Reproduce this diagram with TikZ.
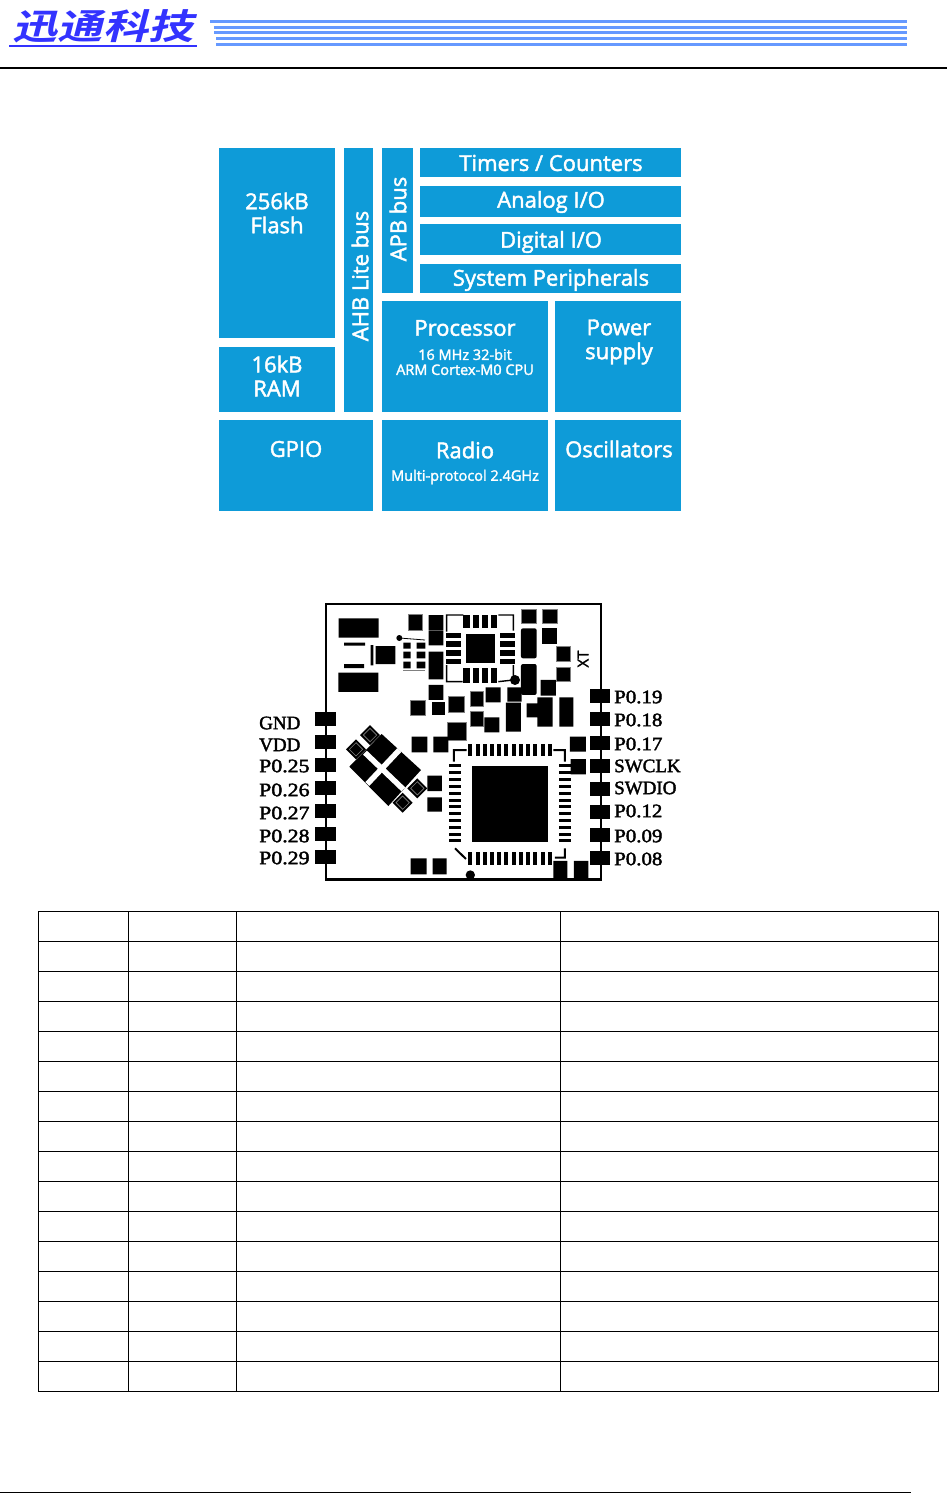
\documentclass[tikz,border=0pt]{standalone}
\usepackage{fontspec}
\setmainfont{Liberation Serif}
\setsansfont{Open Sans}[FakeBold=2]
\newfontfamily\cjk{Noto Sans CJK SC}[FakeSlant=0.2,BoldFont={* Bold}]
\newfontfamily\pinfont{Liberation Serif}[FakeBold=2]
\definecolor{blockblue}{HTML}{0E9BD8}
\definecolor{logoblue}{HTML}{3333FF}
\definecolor{stripeblue}{HTML}{6699FF}
\tikzset{
  block/.style={fill=blockblue,inner sep=0pt,anchor=north west},
  blocktext/.style={text=white,font=\sffamily\fontsize{22}{24}\selectfont,align=center,inner sep=0pt},
  smalltext/.style={text=white,font=\sffamily\fontsize{14.5}{15}\selectfont,align=center,inner sep=0pt},
  pinlabel/.style={font=\pinfont\fontsize{19}{22}\selectfont,inner sep=0pt,anchor=west},
  padframe/.style={fill=black,draw=gray,line width=0.8pt}
}
\newcommand{\chipdiam}[3]{\fill (#1-#3,#2) -- (#1,#2-#3) -- (#1+#3,#2) -- (#1,#2+#3) -- cycle;
  \draw[gray,line width=0.6pt] (#1-#3+10,#2) -- (#1,#2-#3+10) -- (#1+#3-10,#2) -- (#1,#2+#3-10) -- cycle;}
\begin{document}
\begin{tikzpicture}[x=1pt,y=-1pt]
\useasboundingbox (0,0) rectangle (947,1493);

% page header
\node[text=logoblue,font=\cjk\bfseries\fontsize{40}{42}\selectfont,inner sep=0pt] (logo) at (103,26) {\scalebox{1.13}[0.88]{迅通科技}};
\draw[logoblue,line width=2.5pt] (9,46) -- (197,46);
\draw[stripeblue,line width=2.6pt] (210,21.7) -- (907,21.7);
\draw[stripeblue,line width=2.6pt] (214,27.4) -- (907,27.4);
\draw[stripeblue,line width=2.6pt] (214,32.7) -- (907,32.7);
\draw[stripeblue,line width=2.6pt] (216,38.7) -- (907,38.7);
\draw[stripeblue,line width=2.6pt] (216,44.7) -- (907,44.7);
\draw[line width=2pt] (0,68) -- (947,68);
\draw[line width=0.8pt] (0,1492.5) -- (911,1492.5);

% block diagram
\node[block,minimum width=116pt,minimum height=190pt] (flash) at (219,148) {};
\node[block,minimum width=116pt,minimum height=65pt] (ram) at (219,347) {};
\node[block,minimum width=29pt,minimum height=264pt] (ahb) at (344,148) {};
\node[block,minimum width=31pt,minimum height=145pt] (apb) at (382,148) {};
\node[block,minimum width=261pt,minimum height=29pt] (timers) at (420,148) {};
\node[block,minimum width=261pt,minimum height=31pt] (analog) at (420,186) {};
\node[block,minimum width=261pt,minimum height=31pt] (digital) at (420,224) {};
\node[block,minimum width=261pt,minimum height=29pt] (system) at (420,264) {};
\node[block,minimum width=166pt,minimum height=111pt] (proc) at (382,301) {};
\node[block,minimum width=126pt,minimum height=111pt] (power) at (555,301) {};
\node[block,minimum width=154pt,minimum height=91pt] (gpio) at (219,420) {};
\node[block,minimum width=166pt,minimum height=91pt] (radio) at (382,420) {};
\node[block,minimum width=126pt,minimum height=91pt] (osc) at (555,420) {};

\node[blocktext] (flashtext) at (277,213) {256kB\\Flash};
\node[blocktext] (ramtext) at (277,376) {16kB\\RAM};
\node[blocktext,rotate=90] (ahbtext) at (360,276) {AHB Lite bus};
\node[blocktext,rotate=90] (apbtext) at (398,219) {APB bus};
\node[blocktext] (timerstext) at (551,163) {Timers / Counters};
\node[blocktext] (analogtext) at (551,202) {Analog I/O};
\node[blocktext] (digitaltext) at (551,242) {Digital I/O};
\node[blocktext] (systemtext) at (551,280) {System Peripherals};
\node[blocktext] (proctext) at (465,328) {Processor};
\node[smalltext] (procsub) at (465,362) {16 MHz 32-bit\\ARM Cortex-M0 CPU};
\node[blocktext] (powertext) at (619,342) {Power\\supply};
\node[blocktext] (gpiotext) at (296,449) {GPIO};
\node[blocktext] (radiotext) at (465,450) {Radio};
\node[smalltext] (radiosub) at (465,477) {Multi-protocol 2.4GHz};
\node[blocktext] (osctext) at (619,449) {Oscillators};

% module outline and pins
\draw[line width=2.4pt] (326,604) rectangle (601,879.5);
\foreach \y in {719,742,765,788,811,834,857}
  \fill (315,\y-7) rectangle (336,\y+7);
\foreach \y in {696,719,743,766,789,812,835,858}
  \fill (590,\y-7) rectangle (610,\y+7);
\node[pinlabel] (leftGND) at (259,723) {GND};
\node[pinlabel] (leftVDD) at (259,745) {VDD};
\foreach \name/\y in {P0.25/766,P0.26/790,P0.27/813,P0.28/836,P0.29/858}
  \node[pinlabel] (left\name) at (259,\y) {\scalebox{1.15}[1]{\name}};
\foreach \name/\y in {P0.19/697,P0.18/720,P0.17/744,P0.12/811,P0.09/836,P0.08/859}
  \node[pinlabel] (right\name) at (614,\y) {\scalebox{1.1}[1]{\name}};
\node[pinlabel] (rightSWCLK) at (614,766) {SWCLK};
\node[pinlabel] (rightSWDIO) at (614,788) {SWDIO};
\node[rotate=90,font=\sffamily\fontsize{15}{16}\selectfont,inner sep=0pt] (xt) at (583,659) {XT};

% upper half of the board
\begin{scope}[shift={(320,600)},x=0.3333pt,y=-0.3333pt]
\fill (56,55) rectangle (176,113) (72,128) rectangle (135,137) (72,192) rectangle (132,204) (55,218) rectangle (175,276);
\fill (152,135) rectangle (160,196) (167,138) rectangle (226,192);
\fill (238,114) circle(9);
\draw[line width=0.8pt] (238,114) -- (315,120);
\fill (250,128) rectangle (272,146) (290,128) rectangle (316,146) (250,155) rectangle (272,175) (290,155) rectangle (316,175) (250,185) rectangle (272,205) (290,185) rectangle (316,205);
\draw[gray,line width=0.8pt] (250,211) -- (316,211);
\draw[padframe] (265,42) rectangle (308,90);
\fill (326,45) rectangle (370,90) (326,92) rectangle (370,136) (326,155) rectangle (370,238) (326,255) rectangle (370,300);
% small qfn
\draw[line width=1.4pt] (430,45) -- (380,45) -- (380,95) (535,45) -- (580,45) -- (580,92) (380,195) -- (380,245) -- (428,245) (535,245) -- (580,240) -- (580,195);
\fill (438,103) rectangle (524,190);
\foreach \x in {430,458,486,512} {
  \fill (\x,45) rectangle (\x+19,85);
  \fill (\x,205) rectangle (\x+19,248);
}
\foreach \y/\h in {100/14,122/20,150/18,176/16} {
  \fill (378,\y) rectangle (422,\y+\h);
  \fill (541,\y) rectangle (585,\y+\h);
}
\fill (585,240) circle(15);
\draw[padframe] (605,28) rectangle (648,70);
\draw[padframe] (667,28) rectangle (712,70);
\fill[rounded corners=2pt] (603,85) rectangle (650,175);
\fill (667,85) rectangle (712,133);
\draw[padframe] (710,140) rectangle (752,185);
\draw[padframe] (710,202) rectangle (752,245);
\fill[rounded corners=2pt] (603,192) rectangle (650,285);
\fill (662,240) rectangle (708,287) (562,262) rectangle (605,305) (497,262) rectangle (542,307);
\draw[padframe] (450,275) rectangle (490,318);
\draw[padframe] (385,290) rectangle (432,338);
\fill (335,305) rectangle (375,345);
\draw[padframe] (270,302) rectangle (315,347);
\draw[padframe] (450,335) rectangle (490,378);
\fill (493,352) rectangle (538,397) (558,308) rectangle (603,395) (620,310) rectangle (655,352) (652,292) rectangle (698,380) (718,292) rectangle (760,380);
\draw[padframe] (382,368) rectangle (438,420);
\end{scope}

% antenna block
\begin{scope}[shift={(340,720)},x=0.3333pt,y=-0.3333pt]
\fill (125,42) -- (243,150) -- (145,258) -- (28,140) -- cycle;
\chipdiam{90}{45}{30}
\chipdiam{48}{88}{30}
\chipdiam{232}{205}{30}
\chipdiam{188}{248}{30}
\draw[white,line width=5.5pt] (75,98) -- (190,208) (178,90) -- (82,192);
\end{scope}

% lower half of the board
\begin{scope}[shift={(320,735)},x=0.3333pt,y=-0.3333pt]
\fill (275,5) rectangle (322,52) (340,5) rectangle (385,52) (750,5) rectangle (798,50) (752,72) rectangle (798,118);
\fill (322,122) rectangle (366,168) (322,187) rectangle (366,230) (272,370) rectangle (320,418) (338,370) rectangle (380,418);
\fill (700,378) rectangle (742,432) (762,378) rectangle (805,432);
% large qfn
\fill (455,92) rectangle (685,322);
\foreach \i in {0,...,11} {
  \fill (445+21.7*\i,27) rectangle (457+21.7*\i,62);
  \fill (445+21.7*\i,352) rectangle (457+21.7*\i,390);
  \fill (388,88+20.5*\i) rectangle (422,97+20.5*\i);
  \fill (718,88+20.5*\i) rectangle (752,97+20.5*\i);
}
\draw[line width=2pt] (402,80) -- (402,45) -- (440,45) (700,45) -- (735,45) -- (735,80) (405,340) -- (438,372) (735,340) -- (735,368) -- (705,368);
\fill (451,420) circle(14);
\end{scope}

% empty table
\foreach \y in {0,...,16}
  \draw[line width=0.8pt] (38,911+30*\y) -- (939,911+30*\y);
\foreach \x in {38.5,128.5,236.5,560.5,938.5}
  \draw[line width=0.8pt] (\x,911) -- (\x,1391);
\end{tikzpicture}
\end{document}
